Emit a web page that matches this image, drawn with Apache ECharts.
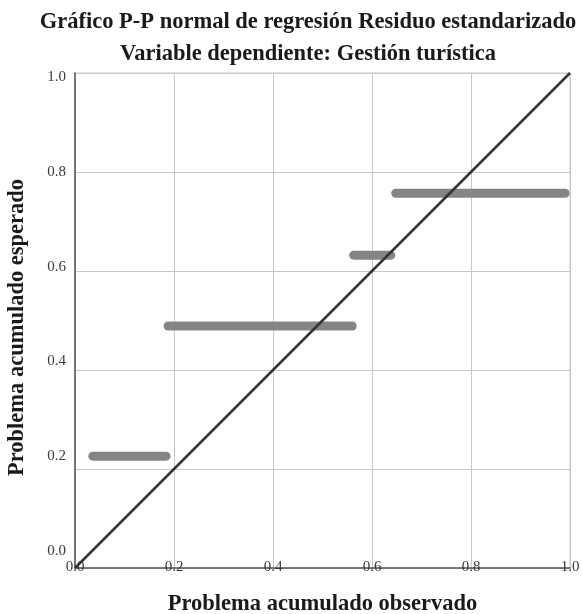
<!DOCTYPE html>
<html>
<head>
<meta charset="utf-8">
<script src="https://cdn.jsdelivr.net/npm/echarts@6/dist/echarts.min.js"></script>
<style>
html,body{margin:0;padding:0;background:#fff;}
#chart{width:582px;height:614px;}
</style>
</head>
<body>
<div id="chart"></div>
<script>
// Data: horizontal runs of overlapping points
var segStartX = [0.036, 0.188, 0.563, 0.648];
var segEndX   = [0.184, 0.560, 0.638, 0.990];
var segY      = [0.226, 0.489, 0.632, 0.757];
var diagonal  = [[0, 0], [1, 1]];
var tickValues = [0, 0.2, 0.4, 0.6, 0.8, 1.0];

var titleLines = ['Gráfico P-P normal de regresión Residuo estandarizado', 'Variable dependiente: Gestión turística'];
var xTitle = 'Problema acumulado observado';
var yTitle = 'Problema acumulado esperado';

var FONT = '"Liberation Serif", "DejaVu Serif", serif';
var chart = echarts.init(document.getElementById('chart'), null, {renderer: 'canvas'});

var series = [];
for (var i = 0; i < segY.length; i++) {
  series.push({
    type: 'line',
    data: [[segStartX[i], segY[i]], [segEndX[i], segY[i]]],
    showSymbol: false,
    symbol: 'none',
    lineStyle: {color: '#858585', width: 9, cap: 'round'},
    silent: true,
    z: 3
  });
}
series.push({
  type: 'line',
  data: diagonal,
  showSymbol: false,
  symbol: 'none',
  lineStyle: {color: '#333333', width: 2.5},
  silent: true,
  z: 4
});

chart.setOption({
  animation: false,
  backgroundColor: '#ffffff',
  title: {
    text: titleLines.join('\n'),
    left: 303,
    top: 1,
    textAlign: 'center',
    textStyle: {fontFamily: FONT, fontWeight: 'bold', fontSize: 22.5, lineHeight: 32, color: '#1a1a1a'}
  },
  grid: {left: 75, right: 12, top: 73, bottom: 46, show: true, borderColor: '#c8c8c8', borderWidth: 1,
         containLabel: false, outerBoundsMode: 'none'},
  xAxis: {
    type: 'value', min: 0, max: 1, interval: 0.2,
    name: xTitle, nameLocation: 'middle', nameGap: 25,
    nameTextStyle: {fontFamily: FONT, fontWeight: 'bold', fontSize: 22.5, color: '#1a1a1a'},
    axisLine: {show: true, lineStyle: {color: '#555555', width: 1.5}},
    axisTick: {show: false},
    axisLabel: {margin: -8, fontFamily: FONT, fontSize: 15, color: '#3a3a3a', formatter: function (v) { return v.toFixed(1); }},
    splitLine: {show: true, lineStyle: {color: '#c8c8c8', width: 1}}
  },
  yAxis: [{
    type: 'value', min: 0, max: 1, interval: 0.2,
    name: yTitle, nameLocation: 'middle', nameGap: 46, nameRotate: 90,
    nameTextStyle: {fontFamily: FONT, fontWeight: 'bold', fontSize: 22.5, color: '#1a1a1a', padding: [0, 14, 0, 0]},
    axisLine: {show: true, lineStyle: {color: '#555555', width: 1.5}},
    axisTick: {show: false},
    axisLabel: {show: false},
    splitLine: {show: true, lineStyle: {color: '#c8c8c8', width: 1}}
  }, {
    type: 'value', position: 'left', min: -0.03586, max: 1.00844,
    axisLine: {show: false}, axisTick: {show: false}, splitLine: {show: false},
    axisLabel: {customValues: tickValues, margin: 9, fontFamily: FONT, fontSize: 15, color: '#3a3a3a', formatter: function (v) { return v.toFixed(1); }}
  }],
  series: series
});
</script>
</body>
</html>
